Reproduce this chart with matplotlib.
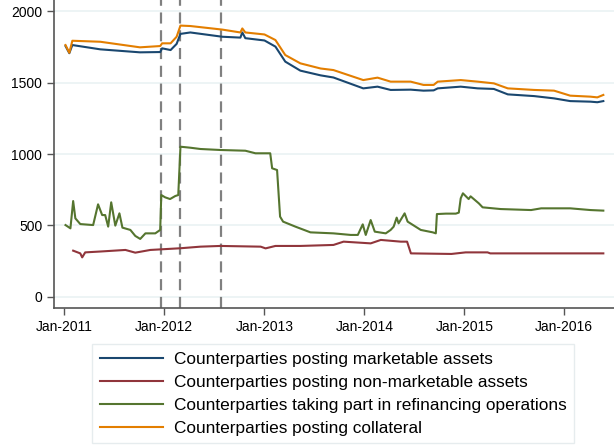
import matplotlib
matplotlib.use("Agg")
import matplotlib.pyplot as plt
import matplotlib.dates as mdates
import pandas as pd

plt.rcParams['font.family'] = ['Liberation Sans', 'DejaVu Sans']

# marketable / collateral share the same dates
top_dates = ['2011-01-05', '2011-01-19', '2011-01-30', '2011-05-12', '2011-10-04',
             '2011-12-17', '2011-12-24', '2012-01-24', '2012-02-15', '2012-02-29',
             '2012-04-05', '2012-07-31', '2012-10-05', '2012-10-12', '2012-10-23',
             '2013-01-01', '2013-02-10', '2013-03-18', '2013-05-12', '2013-07-25',
             '2013-09-10', '2013-12-28', '2014-02-18', '2014-04-07', '2014-06-19',
             '2014-08-05', '2014-09-11', '2014-09-26', '2014-12-19', '2015-02-19',
             '2015-04-19', '2015-06-09', '2015-09-13', '2015-11-25', '2016-01-23',
             '2016-04-06', '2016-05-01', '2016-05-23']
marketable = [1755, 1705, 1762, 1732, 1711,
              1713, 1739, 1727, 1770, 1840,
              1850, 1820, 1814, 1850, 1810,
              1794, 1751, 1646, 1583, 1550,
              1535, 1459, 1471, 1448, 1450,
              1443, 1445, 1459, 1471, 1459,
              1455, 1417, 1405, 1389, 1370,
              1366, 1362, 1370]
collateral = [1762, 1708, 1792, 1785, 1746,
              1755, 1774, 1774, 1820, 1898,
              1895, 1870, 1850, 1878, 1850,
              1836, 1797, 1692, 1634, 1598,
              1587, 1517, 1534, 1506, 1506,
              1483, 1483, 1506, 1517, 1506,
              1494, 1459, 1448, 1443, 1408,
              1401, 1396, 1413]

nonmkt_dates = ['2011-02-02', '2011-02-28', '2011-03-07', '2011-03-18', '2011-05-12',
                '2011-08-12', '2011-09-17', '2011-11-11', '2012-03-01', '2012-05-12',
                '2012-07-24', '2012-12-18', '2013-01-05', '2013-02-10', '2013-05-12',
                '2013-09-10', '2013-10-17', '2014-01-24', '2014-03-02', '2014-05-14',
                '2014-06-06', '2014-06-20', '2014-11-15', '2015-01-06', '2015-03-27',
                '2015-04-06', '2016-05-23']
nonmarketable = [324, 305, 277, 312, 318,
                 329, 310, 329, 341, 352,
                 357, 352, 340, 357, 357,
                 364, 387, 375, 399, 387,
                 387, 305, 301, 312, 312,
                 305, 305]

refi_dates = ['2011-01-05', '2011-01-23', '2011-02-02', '2011-02-10', '2011-02-28',
              '2011-04-16', '2011-05-04', '2011-05-19', '2011-05-30', '2011-06-10',
              '2011-06-21', '2011-07-06', '2011-07-21', '2011-08-01', '2011-08-30',
              '2011-09-17', '2011-10-05', '2011-10-24', '2011-11-29', '2011-12-17',
              '2011-12-21', '2012-01-04', '2012-01-22', '2012-02-10', '2012-02-21',
              '2012-02-29', '2012-04-05', '2012-05-12', '2012-07-24', '2012-10-23',
              '2012-11-29', '2013-01-22', '2013-01-29', '2013-02-16', '2013-02-27',
              '2013-03-10', '2013-04-24', '2013-06-18', '2013-09-10', '2013-11-12',
              '2013-12-08', '2013-12-26', '2014-01-06', '2014-01-24', '2014-02-08',
              '2014-03-20', '2014-04-07', '2014-04-18', '2014-04-29', '2014-05-06',
              '2014-05-28', '2014-06-08', '2014-07-26', '2014-09-08', '2014-09-19',
              '2014-09-23', '2014-10-26', '2014-12-01', '2014-12-12', '2014-12-19',
              '2014-12-27', '2015-01-17', '2015-01-24', '2015-02-23', '2015-03-09',
              '2015-05-14', '2015-09-02', '2015-10-09', '2016-01-23', '2016-04-06',
              '2016-05-23']
refinancing = [503, 480, 671, 550, 510,
               503, 648, 573, 573, 492,
               662, 499, 585, 485, 469,
               427, 406, 445, 445, 469,
               713, 697, 685, 706, 713,
               1051, 1044, 1035, 1028, 1023,
               1005, 1005, 900, 888, 562,
               527, 492, 452, 445, 434,
               434, 508, 434, 538, 457,
               445, 469, 492, 555, 515,
               585, 527, 469, 452, 445,
               580, 583, 583, 590, 690,
               725, 685, 704, 655, 627,
               615, 608, 620, 620, 608,
               604]

event_dates = ['2011-12-21', '2012-02-29', '2012-07-26']

labels = ['Counterparties posting marketable assets',
          'Counterparties posting non-marketable assets',
          'Counterparties taking part in refinancing operations',
          'Counterparties posting collateral']
colours = ['#1a476f', '#90353b', '#55752f', '#e37e00']

fig = plt.figure(figsize=(6.14, 4.45), dpi=100)
ax = fig.add_axes([54 / 614, 1 - 308 / 445, 1 - 54 / 614, 308 / 445])

for y in [0, 500, 1000, 1500, 2000]:
    ax.axhline(y, color='#eaf2f3', lw=1.2, zorder=0)

ax.plot(pd.to_datetime(top_dates), marketable, color=colours[0], lw=1.5, label=labels[0])
ax.plot(pd.to_datetime(nonmkt_dates), nonmarketable, color=colours[1], lw=1.5, label=labels[1])
ax.plot(pd.to_datetime(refi_dates), refinancing, color=colours[2], lw=1.5, label=labels[2])
ax.plot(pd.to_datetime(top_dates), collateral, color=colours[3], lw=1.5, label=labels[3])

for d in pd.to_datetime(event_dates):
    ax.axvline(d, color='#808080', lw=1.6, ls=(0, (5, 3)), zorder=1)

ax.set_ylim(-77, 2077)
ax.set_xlim(pd.Timestamp('2010-11-24'), pd.Timestamp('2016-07-01'))
ax.set_yticks([0, 500, 1000, 1500, 2000])
ax.set_xticks(pd.to_datetime(['2011-01-01', '2012-01-01', '2013-01-01',
                              '2014-01-01', '2015-01-01', '2016-01-01']))
ax.xaxis.set_major_formatter(mdates.DateFormatter('%b-%Y'))
ax.tick_params(labelsize=10, colors='black', length=5, width=1)
ax.tick_params(axis='both', color='#555555')
for s in ['top', 'right']:
    ax.spines[s].set_visible(False)
for s in ['left', 'bottom']:
    ax.spines[s].set_color('#555555')
    ax.spines[s].set_linewidth(1.2)

leg = fig.legend(loc='upper left', bbox_to_anchor=(92 / 614, 1 - 344 / 445),
                 fontsize=12.4, handlelength=3.7, handletextpad=0.6, labelspacing=0.46,
                 frameon=True, fancybox=False, borderpad=0.45, borderaxespad=0)
leg.get_frame().set_edgecolor('#e0e8ea')
leg.get_frame().set_linewidth(1)

fig.savefig('out.png', dpi=100)
